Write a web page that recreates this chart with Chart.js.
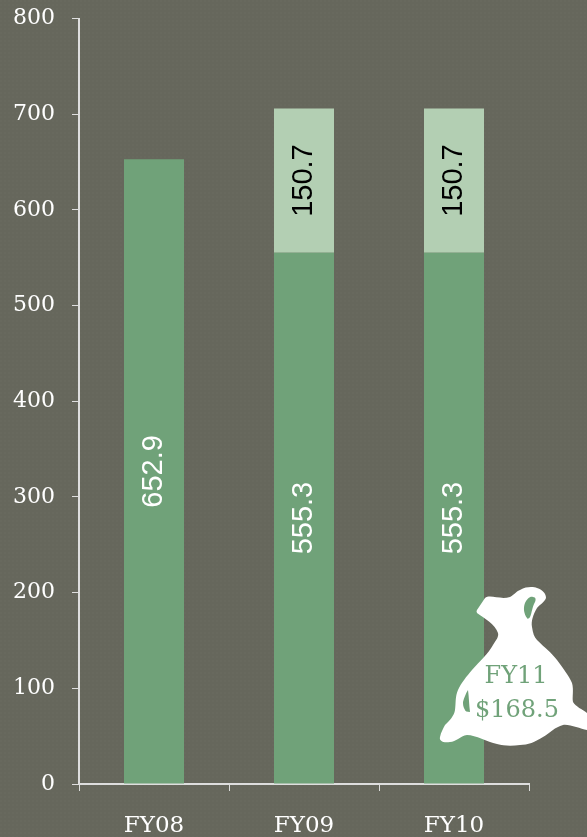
<!DOCTYPE html>
<html><head><meta charset="utf-8">
<style>
html,body{margin:0;padding:0;background:#66675c;}
body{width:587px;height:837px;overflow:hidden;
background-image:radial-gradient(circle at 1px 1px,#68695e 1px,transparent 1.2px);background-size:4px 4px;}
canvas{display:block;}
</style>
<script src="https://cdn.jsdelivr.net/npm/chart.js@4"></script>
</head><body>
<canvas id="c" width="587" height="837"></canvas>
<script>
const categories = ["FY08","FY09","FY10"];
const baseValues = [652.9,555.3,555.3];
const topValues = [null,150.7,150.7];
const yTicks = [0,100,200,300,400,500,600,700,800];
const bagLines = ["FY11","$168.5"];
const GREEN = "#70a279", LIGHT = "#b3cfb3", AXIS = "#dedede";
const SLAB = '"DejaVu Serif"';
const labelPlugin = {
  id:"labels",
  afterDatasetsDraw(chart){
    const ctx = chart.ctx;
    chart.data.datasets.forEach((ds,i)=>{
      chart.getDatasetMeta(i).data.forEach((bar,j)=>{
        if(ds.data[j]==null) return;
        const p = bar.getProps(["x","y","base"],true);
        ctx.save();
        ctx.translate(p.x,(p.y+p.base)/2);
        ctx.rotate(-Math.PI/2);
        ctx.font = '29px "Liberation Sans"';
        ctx.fillStyle = i===0 ? "#ffffff" : "#000000";
        ctx.textAlign = "center"; ctx.textBaseline = "middle";
        ctx.fillText(ds.data[j].toFixed(1),0,0);
        ctx.restore();
      });
    });
  }
};
const bagPlugin = {
  id:"bag",
  afterDraw(chart){
    const ctx = chart.ctx;
    ctx.save();
    ctx.fillStyle = "#ffffff";
    ctx.beginPath();
    ctx.moveTo(477,610);
    ctx.quadraticCurveTo(481,604,485,598);
    ctx.bezierCurveTo(490,594,500,600,510,597);
    ctx.bezierCurveTo(515,594,517,591,520,590);
    ctx.bezierCurveTo(527,586,534,587,537,588);
    ctx.bezierCurveTo(543,590,546,594,546,598);
    ctx.bezierCurveTo(544,603,540,604,537,608);
    ctx.bezierCurveTo(533,615,531,621,532,627);
    ctx.bezierCurveTo(533,633,534,637,537,640);
    ctx.bezierCurveTo(545,648,551,652,557,660);
    ctx.bezierCurveTo(563,668,569,676,572,683);
    ctx.bezierCurveTo(574,690,572,697,573,702);
    ctx.bezierCurveTo(576,707,582,709,587,713);
    ctx.lineTo(587,730);
    ctx.bezierCurveTo(580,729,570,724,563,725);
    ctx.bezierCurveTo(555,727,550,733,543,737);
    ctx.bezierCurveTo(535,742,528,745,520,745);
    ctx.bezierCurveTo(512,746,504,746,497,744);
    ctx.bezierCurveTo(487,742,476,735,467,735);
    ctx.bezierCurveTo(460,736,456,742,450,742);
    ctx.bezierCurveTo(443,743,439,741,440,737);
    ctx.bezierCurveTo(441,732,443,729,445,725);
    ctx.bezierCurveTo(450,720,454,716,455,710);
    ctx.bezierCurveTo(456,703,455,697,458,690);
    ctx.bezierCurveTo(461,683,467,676,472,670);
    ctx.bezierCurveTo(480,661,488,654,493,645);
    ctx.bezierCurveTo(496,640,499,637,498,633);
    ctx.bezierCurveTo(495,624,484,618,477,613);
    ctx.quadraticCurveTo(476,611,477,610);
    ctx.closePath();
    ctx.fill();
    ctx.fillStyle = GREEN;
    ctx.beginPath();
    ctx.moveTo(525,603);
    ctx.bezierCurveTo(527,599,530,596,533,597);
    ctx.bezierCurveTo(536,597,536,600,535,602);
    ctx.bezierCurveTo(532,607,532,613,530,617);
    ctx.bezierCurveTo(529,619,527,619,527,618);
    ctx.bezierCurveTo(524,614,523,608,525,603);
    ctx.closePath();
    ctx.fill();
    ctx.beginPath();
    ctx.moveTo(468,690);
    ctx.bezierCurveTo(469,697,469,705,470,712);
    ctx.bezierCurveTo(467,712,465,711,465,710);
    ctx.bezierCurveTo(463,707,463,704,463,702);
    ctx.bezierCurveTo(464,698,466,693,468,690);
    ctx.closePath();
    ctx.fill();
    ctx.font = `24px ${SLAB}`;
    ctx.textAlign = "center"; ctx.textBaseline = "middle";
    ctx.fillText(bagLines[0],516,677);
    ctx.fillText(bagLines[1],517,711);
    ctx.restore();
  }
};
new Chart(document.getElementById("c"),{
  type:"bar",
  data:{labels:categories,datasets:[
    {data:baseValues,backgroundColor:GREEN,barPercentage:0.4,categoryPercentage:1,stack:"s"},
    {data:topValues,backgroundColor:LIGHT,barPercentage:0.4,categoryPercentage:1,stack:"s"}
  ]},
  plugins:[labelPlugin,bagPlugin],
  options:{
    responsive:false,animation:false,
    layout:{padding:{left:0,right:58,top:18.5,bottom:0}},
    plugins:{legend:{display:false},tooltip:{enabled:false},title:{display:false}},
    scales:{
      x:{stacked:true,
        afterFit(s){s.height=53;s.paddingLeft=0;s.paddingRight=0;},
        grid:{display:true,drawOnChartArea:false,drawTicks:true,tickLength:7,color:AXIS,offset:true},
        border:{color:AXIS,width:2},
        ticks:{color:"#ffffff",font:{family:SLAB,size:23},padding:21,maxRotation:0}},
      y:{stacked:true,min:0,max:800,afterBuildTicks(s){s.ticks=yTicks.map(v=>({value:v}));},
        afterFit(s){s.width=79;s.paddingTop=0;s.paddingBottom=0;},
        grid:{display:true,drawOnChartArea:false,drawTicks:true,tickLength:7,color:AXIS},
        border:{color:AXIS,width:2},
        ticks:{color:"#ffffff",font:{family:SLAB,size:22},padding:17}}
    }
  }
});
</script>
</body></html>
